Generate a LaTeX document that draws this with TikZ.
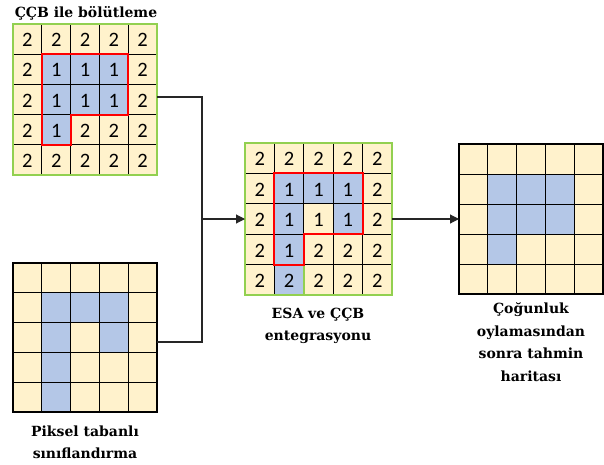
\documentclass[tikz,border=0pt]{standalone}
\usepackage{fontspec}
\setmainfont{DejaVu Serif}
\newfontfamily\numfont{Carlito}
\usetikzlibrary{arrows.meta}
\definecolor{cream}{HTML}{FFF2CC}
\definecolor{cblue}{HTML}{B4C7E7}
\definecolor{cgreen}{HTML}{92D050}
\definecolor{cred}{HTML}{FF0000}
\tikzset{
  gridline/.style={black, line width=0.9pt},
  greenframe/.style={draw=cgreen, line width=2.2pt, inner sep=0pt, outer sep=0pt, anchor=north west},
  blackframe/.style={draw=black, line width=1.3pt, inner sep=0pt, outer sep=0pt, anchor=north west},
  greenline/.style={draw=cgreen, line width=1.8pt},
  redline/.style={draw=cred, line width=2pt, line join=miter},
  num/.style={font=\numfont\fontsize{20.5}{20.5}\selectfont, inner sep=0pt},
  lbl/.style={font=\bfseries\fontsize{14}{22.5}\selectfont, align=center, inner sep=0pt},
  conn/.style={draw=black!85, line width=1.1pt},
  arr/.style={conn, -{Triangle[length=9pt,width=9pt]}},
}
% #1 x0, #2 y0, #3 w, #4 h, #5 blue cells c/r
\newcommand\mycells[5]{%
  \fill[cream] (#1,#2) rectangle ++({5*#3},{5*#4});
  \foreach \c/\r in {#5} \fill[cblue] ({#1+(\c-1)*#3},{#2+(\r-1)*#4}) rectangle ++(#3,#4);
  \foreach \i in {1,...,4} {
    \draw[gridline] ({#1+\i*#3},#2) -- ++(0,{5*#4});
    \draw[gridline] (#1,{#2+\i*#4}) -- ++({5*#3},0);
  }
}
% #1 prefix, #2 x0, #3 y0, #4 w, #5 h
\newcommand\mynums[5]{%
  \foreach \row [count=\r] in {{2,2,2,2,2},{2,1,1,1,2},{2,1,1,1,2},{2,1,2,2,2},{2,2,2,2,2}}
    \foreach \v [count=\c] in \row
      \node[num] (#1-\r-\c) at ({#2+(\c-0.5)*#4},{#3+(\r-0.5)*#5+1}) {\v};
}
% #1 x0, #2 y0, #3 w, #4 h
\newcommand\myred[4]{%
  \draw[redline] ({#1+#3},{#2+#4}) -- ({#1+4*#3},{#2+#4}) -- ({#1+4*#3},{#2+3*#4})
    -- ({#1+2*#3},{#2+3*#4}) -- ({#1+2*#3},{#2+4*#4}) -- ({#1+#3},{#2+4*#4}) -- cycle;
}
\begin{document}
\begin{tikzpicture}[x=1pt,y=-1pt]
\useasboundingbox (0,0) rectangle (604,464);
% grid 1
\mycells{13}{24}{28.8}{30.2}{2/2,3/2,4/2,2/3,3/3,4/3,2/4}
\mynums{a}{13}{24}{28.8}{30.2}
\myred{13}{24}{28.8}{30.2}
\node[greenframe, minimum width=144pt, minimum height=151pt] (g1) at (13,24) {};
% grid 2
\mycells{13}{263}{28.8}{29.8}{2/2,3/2,4/2,2/3,4/3,2/4,2/5}
\node[blackframe, minimum width=144pt, minimum height=149pt] (g2) at (13,263) {};
% grid 3
\mycells{245}{143}{29.4}{30.4}{2/2,3/2,4/2,2/3,4/3,2/4,2/5}
\draw[greenline] (303.8,264.6) -- (303.8,295);
\mynums{b}{245}{143}{29.4}{30.4}
\myred{245}{143}{29.4}{30.4}
\node[greenframe, minimum width=147pt, minimum height=152pt] (g3) at (245,143) {};
% grid 4
\mycells{459}{144}{28.8}{30}{2/2,3/2,4/2,2/3,3/3,4/3,2/4}
\node[blackframe, minimum width=144pt, minimum height=150pt] (g4) at (459,144) {};
% labels
\node[lbl] (t1) at (86,13) {ÇÇB ile bölütleme};
\node[lbl] (t2) at (85,442.5) {Piksel tabanlı\\sınıflandırma};
\node[lbl] (t3) at (318,326) {ESA ve ÇÇB\\entegrasyonu};
\node[lbl] (t4) at (531,342) {Çoğunluk\\oylamasından\\sonra tahmin\\haritası};
% connectors
\coordinate (j) at (202,219);
\draw[conn] ([yshift=2.5pt]g1.east) -| (j);
\draw[conn] ([yshift=-4.5pt]g2.east) -| (j);
\draw[arr] (j) -- (g3.west);
\draw[arr] (g3.east) -- (g4.west);
\end{tikzpicture}
\end{document}
